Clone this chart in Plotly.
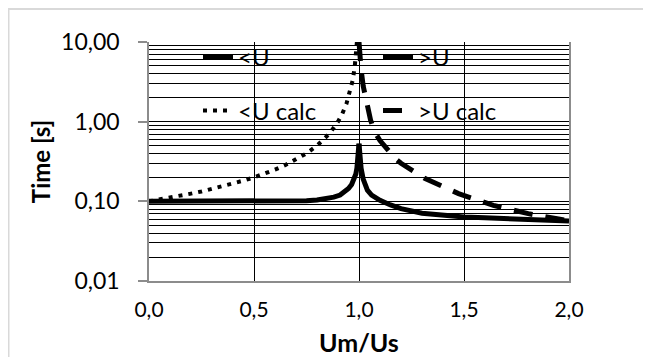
import plotly.graph_objects as go

# ---- data ----
lt_x = [0.0, 0.2, 0.4, 0.6, 0.7, 0.75, 0.8, 0.85, 0.88, 0.91, 0.93, 0.95, 0.965, 0.975, 0.985, 0.99, 0.995, 1.0]
lt_y = [0.100, 0.100, 0.100, 0.100, 0.101, 0.102, 0.104, 0.108, 0.113, 0.120, 0.130, 0.145, 0.163, 0.185, 0.22, 0.26, 0.33, 0.53]

gt_x = [1.0, 1.005, 1.01, 1.02, 1.03, 1.04, 1.06, 1.08, 1.1, 1.15, 1.2, 1.3, 1.4, 1.5, 1.6, 1.7, 1.8, 1.9, 2.0]
gt_y = [0.53, 0.33, 0.26, 0.19, 0.155, 0.138, 0.12, 0.11, 0.103, 0.09, 0.081, 0.071, 0.066, 0.0635, 0.062, 0.0605, 0.059, 0.058, 0.0565]

ltc_x = [0.0, 0.05, 0.1, 0.15, 0.2, 0.25, 0.3, 0.35, 0.4, 0.45, 0.5, 0.55, 0.6, 0.65, 0.7, 0.75, 0.8, 0.83, 0.86, 0.9, 0.92, 0.94, 0.96, 0.97, 0.98, 0.99]
ltc_y = [0.100, 0.105, 0.111, 0.118, 0.125, 0.133, 0.143, 0.154, 0.167, 0.182, 0.200, 0.222, 0.250, 0.286, 0.333, 0.40, 0.50, 0.59, 0.71, 1.0, 1.25, 1.67, 2.5, 3.3, 5.0, 10.0]

gtc_x = [1.0, 1.005, 1.01, 1.02, 1.03, 1.04, 1.055, 1.077, 1.1, 1.172, 1.2, 1.315, 1.474, 1.64, 1.806, 1.957, 2.0]
gtc_y = [10.0, 6.0, 4.5, 2.8, 2.1, 1.7, 1.05, 0.72, 0.58, 0.344, 0.30, 0.193, 0.125, 0.089, 0.070, 0.0596, 0.057]

y_ticks = [0.01, 0.1, 1, 10]
y_minor = [m * d for d in (0.01, 0.1, 1) for m in range(2, 10)]
x_ticks = [0.0, 0.5, 1.0, 1.5, 2.0]

FONT = "Lato"

fig = go.Figure()
fig.add_trace(go.Scatter(x=lt_x, y=lt_y, name="<U", mode="lines",
                         line=dict(color="black", width=5), legend="legend"))
fig.add_trace(go.Scatter(x=gt_x, y=gt_y, name=">U", mode="lines",
                         line=dict(color="black", width=5), legend="legend"))
fig.add_trace(go.Scatter(x=ltc_x, y=ltc_y, name="<U calc", mode="lines",
                         line=dict(color="black", width=4, dash="4px,6px"), legend="legend2"))
fig.add_trace(go.Scatter(x=gtc_x, y=gtc_y, name=">U calc", mode="lines",
                         line=dict(color="black", width=5, dash="19px,13px"), legend="legend2"))

# the page places the figure 8px from the window's top-left corner
OFF = 8
W, H = 651 - OFF, 357 - OFF
L, R, T, B = 141, 82, 34, 76
pw, ph = W - L - R, H - T - B

def px2x(px):
    return (px - OFF - L) / pw

def py2y(py):
    return (H - B - (py - OFF)) / ph

legend_common = dict(orientation="h", xanchor="left", yanchor="middle",
                     bgcolor="rgba(0,0,0,0)", borderwidth=0,
                     font=dict(family=FONT, size=24, color="black"),
                     entrywidth=135, itemwidth=30, traceorder="normal")

fig.update_layout(
    width=W, height=H,
    margin=dict(l=L, r=R, t=T, b=B, autoexpand=False),
    paper_bgcolor="white", plot_bgcolor="white",
    separators=",.",
    font=dict(family=FONT, color="black"),
    legend=dict(x=px2x(198), y=py2y(57), **legend_common),
    legend2=dict(x=px2x(198), y=py2y(111), **legend_common),
    xaxis=dict(range=[0, 2], tickvals=x_ticks, tickformat=".1f",
               showgrid=True, gridcolor="black", gridwidth=1,
               showline=True, linecolor="#8c8c8c", linewidth=1.5, mirror=False,
               ticks="", zeroline=False, automargin=False,
               tickfont=dict(family=FONT, size=21, color="black"),
               ticklabelstandoff=9,
               title=dict(text="<b>Um/Us</b>", font=dict(family=FONT, size=25, color="black"),
                          standoff=15)),
    yaxis=dict(type="log", range=[-2, 1], tickvals=y_ticks, tickformat=".2f",
               showgrid=True, gridcolor="black", gridwidth=1,
               minor=dict(tickvals=y_minor, showgrid=True, gridcolor="black", gridwidth=1, ticks=""),
               showline=True, linecolor="#8c8c8c", linewidth=1.5, mirror=True,
               ticks="outside", ticklen=9, tickcolor="#8c8c8c", tickwidth=1.5,
               zeroline=False, automargin=False,
               tickfont=dict(family=FONT, size=23, color="black"),
               ticklabelstandoff=14,
               title=dict(text="<b>Time [s]</b>", font=dict(family=FONT, size=24, color="black"),
                          standoff=4)),
    shapes=[dict(type="rect", xref="paper", yref="paper",
                 x0=px2x(8.5), x1=px2x(651 + 20), y0=py2y(357 + 20), y1=py2y(9),
                 line=dict(color="#d9d9d9", width=2), fillcolor="rgba(0,0,0,0)", layer="below")],
)

fig.write_html("out.html")
